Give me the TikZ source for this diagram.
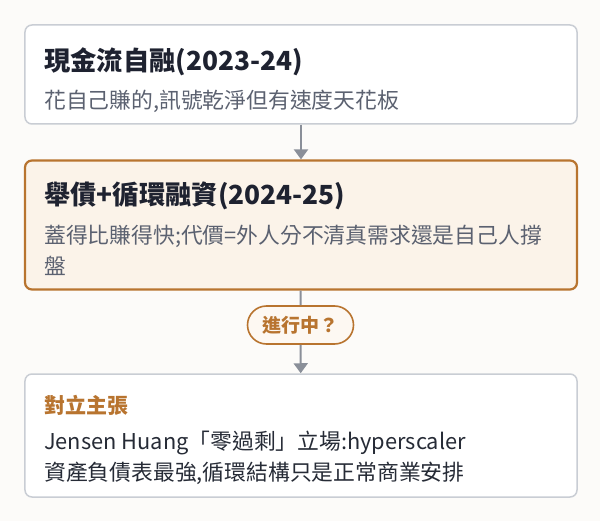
\documentclass[tikz,border=0pt]{standalone}
\usepackage{fontspec}
\setmainfont{Noto Sans CJK TC}
\usepackage{tikz}
\usetikzlibrary{arrows.meta,shapes.misc}

\definecolor{bgcol}{HTML}{FCFBF9}
\definecolor{graybd}{HTML}{C9CDD4}
\definecolor{orangebd}{HTML}{B8742F}
\definecolor{warmfill}{HTML}{FBF3E9}
\definecolor{pillfill}{HTML}{FDF8F2}
\definecolor{arrowcol}{HTML}{8A8F99}
\definecolor{titlecol}{HTML}{1E2230}
\definecolor{subcol}{HTML}{5B6170}
\definecolor{bodycol}{HTML}{262B36}

\begin{document}
\begin{tikzpicture}[x=1bp,y=-1bp,>/.tip={Triangle[width=14bp,length=10bp]},
  box/.style={draw=graybd,line width=1.5bp,fill=white,rounded corners=7bp,
    minimum width=552bp,inner sep=0pt},
  hotbox/.style={box,draw=orangebd,line width=2.2bp,fill=warmfill},
  pill/.style={draw=orangebd,line width=1.6bp,fill=pillfill,rounded rectangle,
    minimum width=106bp,minimum height=38bp,inner sep=0pt,text=orangebd,
    font=\bfseries\fontsize{19bp}{19bp}\selectfont},
  title/.style={anchor=base west,inner sep=0pt,text=titlecol,
    font=\bfseries\fontsize{26.3bp}{26bp}\selectfont},
  sub/.style={anchor=base west,inner sep=0pt,text=subcol,
    font=\fontsize{21.8bp}{22bp}\selectfont},
  head/.style={anchor=base west,inner sep=0pt,text=orangebd,
    font=\bfseries\fontsize{21bp}{21bp}\selectfont},
  body/.style={anchor=base west,inner sep=0pt,text=bodycol,
    font=\fontsize{21.8bp}{22bp}\selectfont},
  link/.style={draw=arrowcol,line width=2bp}]
\fill[bgcol] (0,0) rectangle (600,521);
\useasboundingbox (0,0) rectangle (600,521);

\draw (301,74.5)  node (self) [box,minimum height=99bp] {};
\draw (301,225)   node (debt) [hotbox,minimum height=129bp] {};
\draw (300.5,325) node (ask)  [pill] {進行中？};
\draw (301,435.5) node (claim) [box,minimum height=123bp] {};

\draw[link,->] (self) -- (debt);
\draw[link] (debt) -- (ask);
\draw[link,->] (ask) -- (claim);

\node [title] at (44,71)    {現金流自融(2023-24)};
\node [sub]   at (44,108.5) {花自己賺的,訊號乾淨但有速度天花板};
\node [title] at (44,205)   {舉債+循環融資(2024-25)};
\node [sub]   at (44,243.5) {蓋得比賺得快;代價=外人分不清真需求還是自己人撐};
\node [sub]   at (44,274)   {盤};
\node [head]  at (44,413.5) {對立主張};
\node [body]  at (44,449)   {Jensen Huang「零過剩」立場:hyperscaler};
\node [body]  at (44,480)   {資產負債表最強,循環結構只是正常商業安排};

\end{tikzpicture}
\end{document}
